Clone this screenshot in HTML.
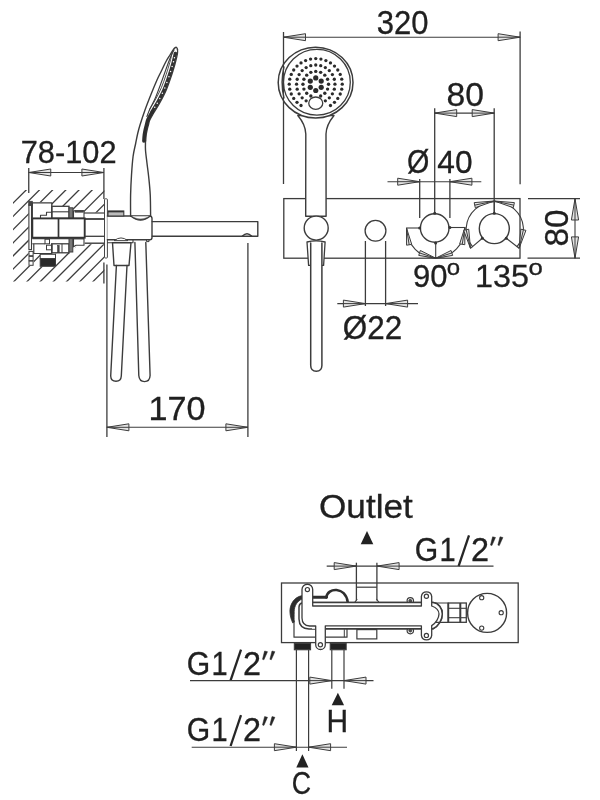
<!DOCTYPE html>
<html><head><meta charset="utf-8"><title>Drawing</title>
<style>
html,body{margin:0;padding:0;background:#fff;}
body{width:600px;height:800px;overflow:hidden;font-family:"Liberation Sans",sans-serif;}
svg{display:block;filter:blur(0.5px);}
svg text{font-family:"Liberation Sans",sans-serif;fill:#202020;stroke:#202020;stroke-width:0.3px;}
</style></head><body>
<svg width="600" height="800" viewBox="0 0 600 800">
<rect x="0" y="0" width="600" height="800" fill="#ffffff"/>
<defs><clipPath id="wall"><path clip-rule="evenodd" d="M13,190 H104.3 V281.6 H13 Z M28.6,202.3 H51.9 V206 H69.2 L72.9,207.6 V210.6 H84.2 V212.6 H104.4 V244.2 H84.2 V245.6 L75.5,247 L73,252.2 L69,253 H55.7 V266.5 H40 V254 H33.9 V265.8 H28.6 Z"/></clipPath></defs>
<g clip-path="url(#wall)">
<line x1="-83.80" y1="300.00" x2="66.20" y2="150.00" stroke="#3c3c3c" stroke-width="1.3" />
<line x1="-70.60" y1="300.00" x2="79.40" y2="150.00" stroke="#3c3c3c" stroke-width="1.3" />
<line x1="-57.40" y1="300.00" x2="92.60" y2="150.00" stroke="#3c3c3c" stroke-width="1.3" />
<line x1="-44.20" y1="300.00" x2="105.80" y2="150.00" stroke="#3c3c3c" stroke-width="1.3" />
<line x1="-31.00" y1="300.00" x2="119.00" y2="150.00" stroke="#3c3c3c" stroke-width="1.3" />
<line x1="-17.80" y1="300.00" x2="132.20" y2="150.00" stroke="#3c3c3c" stroke-width="1.3" />
<line x1="-4.60" y1="300.00" x2="145.40" y2="150.00" stroke="#3c3c3c" stroke-width="1.3" />
<line x1="8.60" y1="300.00" x2="158.60" y2="150.00" stroke="#3c3c3c" stroke-width="1.3" />
<line x1="21.80" y1="300.00" x2="171.80" y2="150.00" stroke="#3c3c3c" stroke-width="1.3" />
<line x1="35.00" y1="300.00" x2="185.00" y2="150.00" stroke="#3c3c3c" stroke-width="1.3" />
<line x1="48.20" y1="300.00" x2="198.20" y2="150.00" stroke="#3c3c3c" stroke-width="1.3" />
<line x1="61.40" y1="300.00" x2="211.40" y2="150.00" stroke="#3c3c3c" stroke-width="1.3" />
<line x1="74.60" y1="300.00" x2="224.60" y2="150.00" stroke="#3c3c3c" stroke-width="1.3" />
</g>
<line x1="28.75" y1="168.00" x2="28.75" y2="193.00" stroke="#3c3c3c" stroke-width="1.3" />
<line x1="103.90" y1="168.00" x2="103.90" y2="199.00" stroke="#3c3c3c" stroke-width="1.3" />
<line x1="28.75" y1="172.50" x2="103.90" y2="172.50" stroke="#3c3c3c" stroke-width="1.1" />
<path d="M28.75,172.50 L50.75,176.00 L50.75,169.00 Z" stroke="#3c3c3c" stroke-width="1.0" fill="#e4e4e4" stroke-linejoin="miter"/>
<line x1="28.75" y1="172.50" x2="50.75" y2="172.50" stroke="#3c3c3c" stroke-width="1.0" />
<path d="M103.90,172.50 L81.90,169.00 L81.90,176.00 Z" stroke="#3c3c3c" stroke-width="1.0" fill="#e4e4e4" stroke-linejoin="miter"/>
<line x1="103.90" y1="172.50" x2="81.90" y2="172.50" stroke="#3c3c3c" stroke-width="1.0" />
<text transform="translate(20.72,162.8) scale(0.9621,1)" font-size="32">78-102</text>
<rect x="28.90" y="205.00" width="2.60" height="44.60" rx="0" stroke="#3c3c3c" stroke-width="1.1" fill="none"/>
<rect x="28.70" y="201.30" width="3.60" height="4.00" rx="0" stroke="#3c3c3c" stroke-width="0.8" fill="#444"/>
<rect x="29.00" y="251.40" width="4.10" height="4.30" rx="0" stroke="#3c3c3c" stroke-width="1" fill="none"/>
<rect x="29.00" y="256.40" width="4.10" height="4.30" rx="0" stroke="#3c3c3c" stroke-width="1" fill="none"/>
<rect x="29.00" y="261.00" width="4.10" height="4.30" rx="0" stroke="#3c3c3c" stroke-width="1" fill="none"/>
<path d="M32.3,217.6 V202.9 H51.8 V217.6" stroke="#3c3c3c" stroke-width="1.3" fill="none" stroke-linejoin="round" stroke-linecap="round" />
<path d="M40.5,217.6 V215.2 H46.5 V212.3 H51.8" stroke="#3c3c3c" stroke-width="1.1" fill="none" stroke-linejoin="round" stroke-linecap="round" />
<rect x="51.80" y="206.30" width="17.20" height="12.00" rx="0" stroke="#3c3c3c" stroke-width="1.3" fill="none"/>
<line x1="51.80" y1="211.80" x2="69.00" y2="211.80" stroke="#3c3c3c" stroke-width="1.1" />
<rect x="69.00" y="207.80" width="3.80" height="10.50" rx="0" stroke="#3c3c3c" stroke-width="1.0" fill="#777"/>
<rect x="73.50" y="210.80" width="10.50" height="7.50" rx="0" stroke="#3c3c3c" stroke-width="1.1" fill="none"/>
<rect x="75.00" y="210.60" width="8.20" height="1.60" rx="0" stroke="#3c3c3c" stroke-width="0.6" fill="#444"/>
<line x1="84.00" y1="213.00" x2="104.30" y2="213.00" stroke="#3c3c3c" stroke-width="1.2" />
<line x1="84.00" y1="219.00" x2="104.30" y2="219.00" stroke="#3c3c3c" stroke-width="1.8" />
<rect x="32.30" y="218.40" width="52.40" height="19.30" rx="0" stroke="#333" stroke-width="1.9" fill="none"/>
<line x1="58.50" y1="218.40" x2="58.50" y2="237.70" stroke="#333" stroke-width="1.7" />
<line x1="84.70" y1="236.30" x2="104.30" y2="236.30" stroke="#3c3c3c" stroke-width="1.3" />
<line x1="32.30" y1="238.60" x2="84.00" y2="238.60" stroke="#3c3c3c" stroke-width="1.2" />
<line x1="84.70" y1="243.20" x2="104.30" y2="243.20" stroke="#3c3c3c" stroke-width="1.4" />
<path d="M33.8,244.4 V253.5 H51.8 V243.8" stroke="#3c3c3c" stroke-width="1.2" fill="none" stroke-linejoin="round" stroke-linecap="round" />
<line x1="32.30" y1="243.80" x2="45.00" y2="243.80" stroke="#3c3c3c" stroke-width="1.1" />
<rect x="45.00" y="239.20" width="4.50" height="4.60" rx="0" stroke="#3c3c3c" stroke-width="1.0" fill="none"/>
<rect x="46.50" y="245.20" width="5.30" height="4.60" rx="0" stroke="#3c3c3c" stroke-width="1.0" fill="none"/>
<rect x="51.80" y="243.80" width="17.20" height="9.00" rx="0" stroke="#3c3c3c" stroke-width="1.3" fill="none"/>
<rect x="57.60" y="245.30" width="1.60" height="7.40" rx="0" stroke="#3c3c3c" stroke-width="0.6" fill="#444"/>
<line x1="62.00" y1="243.80" x2="62.00" y2="252.80" stroke="#3c3c3c" stroke-width="1" />
<rect x="69.00" y="238.60" width="3.80" height="13.40" rx="0" stroke="#3c3c3c" stroke-width="1.0" fill="#777"/>
<path d="M73.5,238.6 H84 V245.2 H76 L73.5,246.8 Z" stroke="#3c3c3c" stroke-width="1.1" fill="none" stroke-linejoin="round" stroke-linecap="round" />
<rect x="40.20" y="254.30" width="15.30" height="4.40" rx="0" stroke="#3c3c3c" stroke-width="1" fill="none"/>
<rect x="40.20" y="258.70" width="15.30" height="7.60" rx="0" stroke="#3c3c3c" stroke-width="1" fill="#2a2a2a"/>
<rect x="104.50" y="198.80" width="2.90" height="59.20" rx="0.8" stroke="#3c3c3c" stroke-width="0.95" fill="#fff"/>
<path d="M107.4,216 H149.8 Q152,216.2 152,218.5 V237.6 Q152,239.8 149.8,239.8 H107.4" stroke="#3c3c3c" stroke-width="1.4" fill="#fff" stroke-linejoin="round" stroke-linecap="round" />
<rect x="108.00" y="211.00" width="15.80" height="5.00" rx="0" stroke="#3c3c3c" stroke-width="1.1" fill="#bbb"/>
<line x1="108.00" y1="211.60" x2="123.80" y2="211.60" stroke="#333" stroke-width="1.5" />
<path d="M107.6,242.8 H133 V239.8" stroke="#3c3c3c" stroke-width="1.1" fill="none" stroke-linejoin="round" stroke-linecap="round" />
<path d="M146.5,239.8 V241.6 H149 V239.8" stroke="#3c3c3c" stroke-width="1.0" fill="none" stroke-linejoin="round" stroke-linecap="round" />
<path d="M131,216.3 Q140.5,224 150,216.3 Z" stroke="#3c3c3c" stroke-width="1.2" fill="#555" stroke-linejoin="round" stroke-linecap="round" />
<path d="M133,216.6 Q140.5,220.5 148,216.6 Z" stroke="#fff" stroke-width="0.5" fill="#fff" stroke-linejoin="round" stroke-linecap="round" />
<path d="M152.2,221.6 H257.8 V236.2 H152.2" stroke="#3c3c3c" stroke-width="1.4" fill="none" stroke-linejoin="round" stroke-linecap="round" />
<path d="M242.5,236 Q247,231.5 251.5,236" stroke="#3c3c3c" stroke-width="1.6" fill="none" stroke-linejoin="round" stroke-linecap="round" />
<path d="M130.60,216.00 C130.60,212.50 130.45,201.83 130.60,195.00 C130.75,188.17 131.08,181.46 131.50,175.00 C131.92,168.54 132.42,161.46 133.10,156.25 C133.78,151.04 134.83,147.54 135.60,143.75 C136.37,139.96 136.97,136.62 137.70,133.50 C138.43,130.38 138.78,128.92 140.00,125.00 C141.22,121.08 143.12,115.21 145.00,110.00 C146.88,104.79 149.25,98.75 151.25,93.75 C153.25,88.75 155.33,83.75 157.00,80.00 C158.67,76.25 159.75,74.33 161.25,71.25 C162.75,68.17 164.54,64.21 166.00,61.50 C167.46,58.79 168.75,57.00 170.00,55.00 C171.25,53.00 172.63,50.73 173.50,49.50 C174.37,48.27 174.92,47.92 175.20,47.60 Q176.8,46.3 177.5,49.5" stroke="#3c3c3c" stroke-width="1.4" fill="none" stroke-linejoin="round" stroke-linecap="round" />
<path d="M177.50,49.50 C177.48,50.25 177.82,51.58 177.40,54.00 C176.98,56.42 176.03,60.29 175.00,64.00 C173.97,67.71 172.71,71.92 171.25,76.25 C169.79,80.58 168.12,85.62 166.25,90.00 C164.38,94.38 162.04,98.75 160.00,102.50 C157.96,106.25 155.70,109.58 154.00,112.50 C152.30,115.42 150.73,117.92 149.80,120.00 C148.87,122.08 148.85,123.33 148.40,125.00 C147.95,126.67 147.47,128.33 147.10,130.00 C146.73,131.67 146.43,133.17 146.20,135.00 C145.97,136.83 145.78,140.00 145.70,141.00" stroke="#3c3c3c" stroke-width="1.3" fill="none" stroke-linejoin="round" stroke-linecap="round" />
<path d="M145.50,141.00 C145.50,142.50 145.27,146.42 145.50,150.00 C145.73,153.58 146.36,157.92 146.90,162.50 C147.44,167.08 148.19,172.08 148.75,177.50 C149.31,182.92 149.94,188.58 150.25,195.00 C150.56,201.42 150.54,212.50 150.60,216.00" stroke="#3c3c3c" stroke-width="1.4" fill="none" stroke-linejoin="round" stroke-linecap="round" />
<path d="M173.90,50.30 C173.42,51.25 172.07,53.55 171.00,56.00 C169.93,58.45 169.12,60.58 167.50,65.00 C165.88,69.42 163.33,76.88 161.25,82.50 C159.17,88.12 156.88,94.38 155.00,98.75 C153.12,103.12 151.35,105.79 150.00,108.75 C148.65,111.71 147.42,115.21 146.90,116.50" stroke="#3c3c3c" stroke-width="1.1" fill="none" stroke-linejoin="round" stroke-linecap="round" />
<path d="M175.46,53.53 C175.06,55.19 174.09,59.79 173.07,63.47 C172.06,67.15 170.80,71.32 169.35,75.61 C167.91,79.90 166.26,84.89 164.41,89.21 C162.56,93.53 160.26,97.83 158.24,101.54 C156.22,105.25 153.28,109.82 152.29,111.47" stroke="#333" stroke-width="3.6" fill="none" stroke-linejoin="round" stroke-linecap="round" />
<path d="M172.15,52.74 C171.76,54.38 170.80,58.93 169.80,62.56 C168.79,66.19 167.55,70.31 166.13,74.53 C164.71,78.75 163.10,83.64 161.29,87.87 C159.47,92.10 157.24,96.28 155.26,99.92 C153.27,103.56 150.35,108.09 149.37,109.72" stroke="#3c3c3c" stroke-width="0.9" fill="none" stroke-linejoin="round" stroke-linecap="round" />
<circle cx="174.46" cy="57.67" r="0.75" fill="#fff"/>
<circle cx="173.47" cy="61.81" r="0.75" fill="#fff"/>
<circle cx="172.14" cy="66.50" r="0.75" fill="#fff"/>
<circle cx="170.59" cy="71.56" r="0.75" fill="#fff"/>
<circle cx="168.94" cy="76.75" r="0.75" fill="#fff"/>
<circle cx="166.88" cy="82.41" r="0.75" fill="#fff"/>
<circle cx="164.82" cy="88.08" r="0.75" fill="#fff"/>
<circle cx="162.36" cy="93.32" r="0.75" fill="#fff"/>
<circle cx="159.79" cy="98.46" r="0.75" fill="#fff"/>
<circle cx="157.25" cy="103.20" r="0.75" fill="#fff"/>
<circle cx="154.77" cy="107.33" r="0.75" fill="#fff"/>
<path d="M152.43,111.62 C151.72,112.89 149.12,117.11 148.16,119.26 C147.20,121.42 147.13,122.81 146.66,124.53 C146.19,126.26 145.72,127.91 145.34,129.61 C144.97,131.32 144.65,132.90 144.41,134.77 C144.18,136.65 143.99,139.84 143.91,140.85" stroke="#2e2e2e" stroke-width="3.6" fill="none" stroke-linejoin="round" stroke-linecap="round" />
<path d="M114.5,240.4 Q121,235.2 127.5,240.4 Z" stroke="#3c3c3c" stroke-width="0.95" fill="#fff" stroke-linejoin="round" stroke-linecap="round" />
<path d="M112.5,242.8 H131 L129,265.5 H114 Z" stroke="#3c3c3c" stroke-width="1.4" fill="#fff" stroke-linejoin="round" stroke-linecap="round" />
<path d="M116.4,265.5 L110.7,376 Q110.9,381.3 116,381.3 Q121,381.3 121.3,376 L127,265.5" stroke="#3c3c3c" stroke-width="1.4" fill="none" stroke-linejoin="round" stroke-linecap="round" />
<path d="M134.9,242.5 L138.8,375.5 Q139.3,381.6 144.5,381.6 Q149.8,381.6 150.1,375.5 L145.8,242.5" stroke="#3c3c3c" stroke-width="1.4" fill="none" stroke-linejoin="round" stroke-linecap="round" />
<line x1="103.90" y1="262.50" x2="103.90" y2="283.60" stroke="#3c3c3c" stroke-width="1.3" />
<line x1="106.90" y1="264.50" x2="106.90" y2="437.00" stroke="#3c3c3c" stroke-width="1.3" />
<line x1="247.90" y1="243.00" x2="247.90" y2="437.00" stroke="#3c3c3c" stroke-width="1.3" />
<line x1="106.90" y1="427.30" x2="247.90" y2="427.30" stroke="#3c3c3c" stroke-width="1.1" />
<path d="M106.90,427.30 L128.90,430.80 L128.90,423.80 Z" stroke="#3c3c3c" stroke-width="1.0" fill="#e4e4e4" stroke-linejoin="miter"/>
<line x1="106.90" y1="427.30" x2="128.90" y2="427.30" stroke="#3c3c3c" stroke-width="1.0" />
<path d="M247.90,427.30 L225.90,423.80 L225.90,430.80 Z" stroke="#3c3c3c" stroke-width="1.0" fill="#e4e4e4" stroke-linejoin="miter"/>
<line x1="247.90" y1="427.30" x2="225.90" y2="427.30" stroke="#3c3c3c" stroke-width="1.0" />
<text transform="translate(148.38,419.8) scale(1.0495,1)" font-size="32.6">170</text>
<rect x="283.80" y="198.60" width="236.20" height="59.60" rx="0" stroke="#3c3c3c" stroke-width="1.3" fill="none"/>
<line x1="283.50" y1="32.00" x2="283.50" y2="184.00" stroke="#3c3c3c" stroke-width="1.3" />
<line x1="520.10" y1="31.50" x2="520.10" y2="184.30" stroke="#3c3c3c" stroke-width="1.3" />
<line x1="283.50" y1="37.20" x2="520.10" y2="37.20" stroke="#3c3c3c" stroke-width="1.1" />
<path d="M283.50,37.20 L305.50,40.70 L305.50,33.70 Z" stroke="#3c3c3c" stroke-width="1.0" fill="#e4e4e4" stroke-linejoin="miter"/>
<line x1="283.50" y1="37.20" x2="305.50" y2="37.20" stroke="#3c3c3c" stroke-width="1.0" />
<path d="M520.10,37.20 L498.10,33.70 L498.10,40.70 Z" stroke="#3c3c3c" stroke-width="1.0" fill="#e4e4e4" stroke-linejoin="miter"/>
<line x1="520.10" y1="37.20" x2="498.10" y2="37.20" stroke="#3c3c3c" stroke-width="1.0" />
<text transform="translate(376.82,33.8) scale(0.941,1)" font-size="33">320</text>
<path d="M297.8,115.5 C302.5,121 305.6,127 305.8,134 L305.7,216.2 H326.1 L326,134 C326.2,127 329.5,121 334,115.5 Z" stroke="#3c3c3c" stroke-width="1.4" fill="#fff" stroke-linejoin="round" stroke-linecap="round" />
<ellipse cx="315.60" cy="82.60" rx="37.40" ry="35.40" stroke="#3c3c3c" stroke-width="1.5" fill="#fff" />
<ellipse cx="316.90" cy="82.20" rx="33.40" ry="32.90" stroke="#3c3c3c" stroke-width="1.3" fill="none" />
<path d="M283.9,67 Q280.4,82 283.9,98" stroke="#3c3c3c" stroke-width="1.5" fill="none" stroke-linejoin="round" stroke-linecap="round" />
<line x1="283.50" y1="60.00" x2="283.50" y2="105.00" stroke="#3c3c3c" stroke-width="1.0" />
<circle cx="315.75" cy="77.90" r="2.6" fill="#2b2b2b"/>
<circle cx="321.21" cy="81.05" r="2.6" fill="#2b2b2b"/>
<circle cx="321.21" cy="87.35" r="2.6" fill="#2b2b2b"/>
<circle cx="315.75" cy="90.50" r="2.6" fill="#2b2b2b"/>
<circle cx="310.29" cy="87.35" r="2.6" fill="#2b2b2b"/>
<circle cx="310.29" cy="81.05" r="2.6" fill="#2b2b2b"/>
<circle cx="315.75" cy="71.40" r="1.7" fill="#2b2b2b"/>
<circle cx="320.65" cy="72.37" r="1.7" fill="#2b2b2b"/>
<circle cx="324.80" cy="75.15" r="1.7" fill="#2b2b2b"/>
<circle cx="327.58" cy="79.30" r="1.7" fill="#2b2b2b"/>
<circle cx="328.55" cy="84.20" r="1.7" fill="#2b2b2b"/>
<circle cx="327.58" cy="89.10" r="1.7" fill="#2b2b2b"/>
<circle cx="324.80" cy="93.25" r="1.7" fill="#2b2b2b"/>
<circle cx="320.65" cy="96.03" r="1.7" fill="#2b2b2b"/>
<circle cx="310.85" cy="96.03" r="1.7" fill="#2b2b2b"/>
<circle cx="306.70" cy="93.25" r="1.7" fill="#2b2b2b"/>
<circle cx="303.92" cy="89.10" r="1.7" fill="#2b2b2b"/>
<circle cx="302.95" cy="84.20" r="1.7" fill="#2b2b2b"/>
<circle cx="303.92" cy="79.30" r="1.7" fill="#2b2b2b"/>
<circle cx="306.70" cy="75.15" r="1.7" fill="#2b2b2b"/>
<circle cx="310.85" cy="72.37" r="1.7" fill="#2b2b2b"/>
<circle cx="315.75" cy="65.00" r="1.65" fill="#2b2b2b"/>
<circle cx="320.72" cy="65.65" r="1.65" fill="#2b2b2b"/>
<circle cx="325.35" cy="67.57" r="1.65" fill="#2b2b2b"/>
<circle cx="329.33" cy="70.62" r="1.65" fill="#2b2b2b"/>
<circle cx="332.38" cy="74.60" r="1.65" fill="#2b2b2b"/>
<circle cx="334.30" cy="79.23" r="1.65" fill="#2b2b2b"/>
<circle cx="334.95" cy="84.20" r="1.65" fill="#2b2b2b"/>
<circle cx="334.30" cy="89.17" r="1.65" fill="#2b2b2b"/>
<circle cx="332.38" cy="93.80" r="1.65" fill="#2b2b2b"/>
<circle cx="329.33" cy="97.78" r="1.65" fill="#2b2b2b"/>
<circle cx="325.35" cy="100.83" r="1.65" fill="#2b2b2b"/>
<circle cx="306.15" cy="100.83" r="1.65" fill="#2b2b2b"/>
<circle cx="302.17" cy="97.78" r="1.65" fill="#2b2b2b"/>
<circle cx="299.12" cy="93.80" r="1.65" fill="#2b2b2b"/>
<circle cx="297.20" cy="89.17" r="1.65" fill="#2b2b2b"/>
<circle cx="296.55" cy="84.20" r="1.65" fill="#2b2b2b"/>
<circle cx="297.20" cy="79.23" r="1.65" fill="#2b2b2b"/>
<circle cx="299.12" cy="74.60" r="1.65" fill="#2b2b2b"/>
<circle cx="302.17" cy="70.62" r="1.65" fill="#2b2b2b"/>
<circle cx="306.15" cy="67.57" r="1.65" fill="#2b2b2b"/>
<circle cx="310.78" cy="65.65" r="1.65" fill="#2b2b2b"/>
<circle cx="315.75" cy="58.60" r="1.65" fill="#2b2b2b"/>
<circle cx="320.92" cy="59.09" r="1.65" fill="#2b2b2b"/>
<circle cx="325.89" cy="60.55" r="1.65" fill="#2b2b2b"/>
<circle cx="330.47" cy="62.91" r="1.65" fill="#2b2b2b"/>
<circle cx="334.49" cy="66.10" r="1.65" fill="#2b2b2b"/>
<circle cx="337.78" cy="69.98" r="1.65" fill="#2b2b2b"/>
<circle cx="340.23" cy="74.40" r="1.65" fill="#2b2b2b"/>
<circle cx="341.74" cy="79.21" r="1.65" fill="#2b2b2b"/>
<circle cx="342.25" cy="84.20" r="1.65" fill="#2b2b2b"/>
<circle cx="341.74" cy="89.19" r="1.65" fill="#2b2b2b"/>
<circle cx="340.23" cy="94.00" r="1.65" fill="#2b2b2b"/>
<circle cx="337.78" cy="98.42" r="1.65" fill="#2b2b2b"/>
<circle cx="334.49" cy="102.30" r="1.65" fill="#2b2b2b"/>
<circle cx="330.47" cy="105.49" r="1.65" fill="#2b2b2b"/>
<circle cx="301.03" cy="105.49" r="1.65" fill="#2b2b2b"/>
<circle cx="297.01" cy="102.30" r="1.65" fill="#2b2b2b"/>
<circle cx="293.72" cy="98.42" r="1.65" fill="#2b2b2b"/>
<circle cx="291.27" cy="94.00" r="1.65" fill="#2b2b2b"/>
<circle cx="289.76" cy="89.19" r="1.65" fill="#2b2b2b"/>
<circle cx="289.25" cy="84.20" r="1.65" fill="#2b2b2b"/>
<circle cx="289.76" cy="79.21" r="1.65" fill="#2b2b2b"/>
<circle cx="291.27" cy="74.40" r="1.65" fill="#2b2b2b"/>
<circle cx="293.72" cy="69.98" r="1.65" fill="#2b2b2b"/>
<circle cx="297.01" cy="66.10" r="1.65" fill="#2b2b2b"/>
<circle cx="301.03" cy="62.91" r="1.65" fill="#2b2b2b"/>
<circle cx="305.61" cy="60.55" r="1.65" fill="#2b2b2b"/>
<circle cx="310.58" cy="59.09" r="1.65" fill="#2b2b2b"/>
<ellipse cx="315.75" cy="103.20" rx="7.00" ry="6.20" stroke="#3c3c3c" stroke-width="1.3" fill="#fff" />
<path d="M307,242 Q316,239.6 325.1,242 L323.6,265.4 H308.6 Z" stroke="#3c3c3c" stroke-width="1.3" fill="#fff" stroke-linejoin="round" stroke-linecap="round" />
<path d="M310.7,243 V365.5 Q310.8,371.2 316.3,371.2 Q321.8,371.2 321.9,365.5 V243" stroke="#3c3c3c" stroke-width="1.5" fill="#fff" stroke-linejoin="round" stroke-linecap="round" />
<circle cx="316.20" cy="228.10" r="12.00" stroke="#3c3c3c" stroke-width="1.4" fill="#fff"/>
<circle cx="375.50" cy="230.80" r="10.40" stroke="#3c3c3c" stroke-width="1.3" fill="none"/>
<line x1="365.40" y1="241.00" x2="365.40" y2="306.00" stroke="#3c3c3c" stroke-width="1.3" />
<line x1="385.60" y1="241.00" x2="385.60" y2="306.00" stroke="#3c3c3c" stroke-width="1.3" />
<line x1="337.30" y1="303.60" x2="418.00" y2="303.60" stroke="#3c3c3c" stroke-width="1.1" />
<path d="M365.40,303.60 L343.40,300.10 L343.40,307.10 Z" stroke="#3c3c3c" stroke-width="1.0" fill="#e4e4e4" stroke-linejoin="miter"/>
<line x1="365.40" y1="303.60" x2="343.40" y2="303.60" stroke="#3c3c3c" stroke-width="1.0" />
<path d="M385.60,303.60 L407.60,307.10 L407.60,300.10 Z" stroke="#3c3c3c" stroke-width="1.0" fill="#e4e4e4" stroke-linejoin="miter"/>
<line x1="385.60" y1="303.60" x2="407.60" y2="303.60" stroke="#3c3c3c" stroke-width="1.0" />
<text transform="translate(342.81,339.0) scale(0.9513,1)" font-size="33">Ø22</text>
<line x1="434.70" y1="108.30" x2="434.70" y2="213.50" stroke="#3c3c3c" stroke-width="1.3" />
<line x1="494.20" y1="108.30" x2="494.20" y2="213.50" stroke="#3c3c3c" stroke-width="1.3" />
<line x1="434.70" y1="113.10" x2="494.20" y2="113.10" stroke="#3c3c3c" stroke-width="1.1" />
<path d="M434.70,113.10 L456.70,116.60 L456.70,109.60 Z" stroke="#3c3c3c" stroke-width="1.0" fill="#e4e4e4" stroke-linejoin="miter"/>
<line x1="434.70" y1="113.10" x2="456.70" y2="113.10" stroke="#3c3c3c" stroke-width="1.0" />
<path d="M494.20,113.10 L472.20,109.60 L472.20,116.60 Z" stroke="#3c3c3c" stroke-width="1.0" fill="#e4e4e4" stroke-linejoin="miter"/>
<line x1="494.20" y1="113.10" x2="472.20" y2="113.10" stroke="#3c3c3c" stroke-width="1.0" />
<text transform="translate(446.47,105.6) scale(1.0206,1)" font-size="33">80</text>
<line x1="419.70" y1="179.00" x2="419.70" y2="218.00" stroke="#3c3c3c" stroke-width="1.3" />
<line x1="449.90" y1="179.00" x2="449.90" y2="218.00" stroke="#3c3c3c" stroke-width="1.3" />
<line x1="387.50" y1="181.70" x2="481.30" y2="181.70" stroke="#3c3c3c" stroke-width="1.1" />
<path d="M419.70,181.70 L397.70,178.20 L397.70,185.20 Z" stroke="#3c3c3c" stroke-width="1.0" fill="#e4e4e4" stroke-linejoin="miter"/>
<line x1="419.70" y1="181.70" x2="397.70" y2="181.70" stroke="#3c3c3c" stroke-width="1.0" />
<path d="M449.90,181.70 L471.90,185.20 L471.90,178.20 Z" stroke="#3c3c3c" stroke-width="1.0" fill="#e4e4e4" stroke-linejoin="miter"/>
<line x1="449.90" y1="181.70" x2="471.90" y2="181.70" stroke="#3c3c3c" stroke-width="1.0" />
<text transform="translate(406.91,173.0) scale(0.8696,1)" font-size="33">Ø</text>
<text transform="translate(437.26,172.8) scale(0.991,1)" font-size="32">40</text>
<path d="M406.5,228.0 A29.2,30.2 0 0 0 464.9,227.5" stroke="#3c3c3c" stroke-width="1.1" fill="none" stroke-linejoin="round" stroke-linecap="round" />
<circle cx="434.70" cy="228.00" r="14.30" stroke="#3c3c3c" stroke-width="1.4" fill="#fff"/>
<line x1="406.50" y1="228.00" x2="420.40" y2="228.00" stroke="#3c3c3c" stroke-width="1.1" />
<line x1="449.00" y1="227.50" x2="464.90" y2="227.50" stroke="#3c3c3c" stroke-width="1.1" />
<line x1="435.70" y1="242.30" x2="435.70" y2="258.20" stroke="#3c3c3c" stroke-width="1.1" />
<circle cx="434.70" cy="213.20" r="1.5" fill="#333"/>
<circle cx="419.70" cy="228.00" r="1.5" fill="#333"/>
<circle cx="449.90" cy="227.50" r="1.5" fill="#333"/>
<circle cx="435.60" cy="243.00" r="1.5" fill="#333"/>
<path d="M406.50,228.00 L406.59,245.20 L411.73,244.38 Z" stroke="#3c3c3c" stroke-width="1.0" fill="#e4e4e4" stroke-linejoin="miter"/>
<line x1="406.50" y1="228.00" x2="409.16" y2="244.79" stroke="#3c3c3c" stroke-width="1.0" />
<path d="M464.90,227.50 L459.67,243.88 L464.81,244.70 Z" stroke="#3c3c3c" stroke-width="1.0" fill="#e4e4e4" stroke-linejoin="miter"/>
<line x1="464.90" y1="227.50" x2="462.24" y2="244.29" stroke="#3c3c3c" stroke-width="1.0" />
<path d="M435.70,258.20 L420.34,250.47 L418.73,255.42 Z" stroke="#3c3c3c" stroke-width="1.0" fill="#e4e4e4" stroke-linejoin="miter"/>
<line x1="435.70" y1="258.20" x2="419.53" y2="252.95" stroke="#3c3c3c" stroke-width="1.0" />
<path d="M435.70,258.20 L452.67,255.42 L451.06,250.47 Z" stroke="#3c3c3c" stroke-width="1.0" fill="#e4e4e4" stroke-linejoin="miter"/>
<line x1="435.70" y1="258.20" x2="451.87" y2="252.95" stroke="#3c3c3c" stroke-width="1.0" />
<text transform="translate(413.04,287.4) scale(0.971,1)" font-size="32">90</text>
<text transform="translate(446.71,275.0) scale(1.0927,1)" font-size="22">o</text>
<path d="M472.57,246.60 A28.6,27.6 0 1 1 517.03,246.60" stroke="#3c3c3c" stroke-width="1.1" fill="none" stroke-linejoin="round" stroke-linecap="round" />
<circle cx="494.30" cy="228.60" r="15.00" stroke="#3c3c3c" stroke-width="1.4" fill="#fff"/>
<line x1="482.64" y1="238.04" x2="470.48" y2="248.30" stroke="#3c3c3c" stroke-width="1.1" />
<line x1="505.96" y1="238.04" x2="519.12" y2="248.30" stroke="#3c3c3c" stroke-width="1.1" />
<line x1="494.30" y1="213.60" x2="494.30" y2="201.00" stroke="#3c3c3c" stroke-width="1.1" />
<circle cx="494.30" cy="213.30" r="1.5" fill="#333"/>
<circle cx="482.33" cy="238.29" r="1.5" fill="#333"/>
<circle cx="506.27" cy="238.29" r="1.5" fill="#333"/>
<path d="M494.30,201.00 L474.20,202.62 L475.28,207.70 Z" stroke="#3c3c3c" stroke-width="1.0" fill="#e4e4e4" stroke-linejoin="miter"/>
<line x1="494.30" y1="201.00" x2="474.74" y2="205.16" stroke="#3c3c3c" stroke-width="1.0" />
<path d="M494.30,201.00 L513.32,207.70 L514.40,202.62 Z" stroke="#3c3c3c" stroke-width="1.0" fill="#e4e4e4" stroke-linejoin="miter"/>
<line x1="494.30" y1="201.00" x2="513.86" y2="205.16" stroke="#3c3c3c" stroke-width="1.0" />
<path d="M470.48,248.30 L468.73,229.20 L463.67,230.37 Z" stroke="#3c3c3c" stroke-width="1.0" fill="#e4e4e4" stroke-linejoin="miter"/>
<line x1="470.48" y1="248.30" x2="466.20" y2="229.78" stroke="#3c3c3c" stroke-width="1.0" />
<path d="M519.12,248.30 L525.93,230.37 L520.87,229.20 Z" stroke="#3c3c3c" stroke-width="1.0" fill="#e4e4e4" stroke-linejoin="miter"/>
<line x1="519.12" y1="248.30" x2="523.40" y2="229.78" stroke="#3c3c3c" stroke-width="1.0" />
<text transform="translate(474.97,287.4) scale(1.0101,1)" font-size="32">135</text>
<text transform="translate(528.43,275.0) scale(1.1707,1)" font-size="22">o</text>
<line x1="528.00" y1="198.70" x2="580.00" y2="198.70" stroke="#3c3c3c" stroke-width="1.3" />
<line x1="527.50" y1="258.20" x2="580.00" y2="258.20" stroke="#3c3c3c" stroke-width="1.3" />
<line x1="575.00" y1="198.70" x2="575.00" y2="258.20" stroke="#3c3c3c" stroke-width="1.1" />
<path d="M575.00,198.70 L571.40,220.00 L578.60,220.00 Z" stroke="#3c3c3c" stroke-width="1.0" fill="#e4e4e4" stroke-linejoin="miter"/>
<line x1="575.00" y1="198.70" x2="575.00" y2="220.00" stroke="#3c3c3c" stroke-width="1.0" />
<path d="M575.00,258.20 L578.60,236.90 L571.40,236.90 Z" stroke="#3c3c3c" stroke-width="1.0" fill="#e4e4e4" stroke-linejoin="miter"/>
<line x1="575.00" y1="258.20" x2="575.00" y2="236.90" stroke="#3c3c3c" stroke-width="1.0" />
<text transform="translate(568.0,246.5) rotate(-90) scale(0.9942,1)" font-size="33.5">80</text>
<rect x="281.50" y="583.00" width="236.70" height="59.60" rx="0" stroke="#3c3c3c" stroke-width="1.3" fill="none"/>
<text transform="translate(319.0,517.5) scale(1.0655,1)" font-size="33">Outlet</text>
<path d="M367,531 L373.3,544.2 L360.7,544.2 Z" fill="#222"/>
<text transform="translate(414.68,560.80) scale(0.9286,1)" font-size="32.5">G</text>
<text transform="translate(439.47,560.80) scale(0.8929,1)" font-size="32.5">1</text>
<text transform="translate(471.06,560.80) scale(0.9966,1)" font-size="32.5">2</text>
<line x1="469.00" y1="535.40" x2="458.60" y2="566.20" stroke="#262626" stroke-width="2.3"/>
<path d="M492.60,536.80 L495.50,537.50 L491.90,545.60 L490.50,545.10 Z" fill="#262626" stroke="#262626" stroke-width="0.5" stroke-linejoin="round"/>
<path d="M500.00,536.80 L502.90,537.50 L499.30,545.60 L497.90,545.10 Z" fill="#262626" stroke="#262626" stroke-width="0.5" stroke-linejoin="round"/>
<line x1="326.70" y1="566.10" x2="493.50" y2="566.10" stroke="#3c3c3c" stroke-width="1.1" />
<path d="M356.20,566.10 L334.20,562.60 L334.20,569.60 Z" stroke="#3c3c3c" stroke-width="1.0" fill="#e4e4e4" stroke-linejoin="miter"/>
<line x1="356.20" y1="566.10" x2="334.20" y2="566.10" stroke="#3c3c3c" stroke-width="1.0" />
<path d="M377.10,566.10 L399.10,569.60 L399.10,562.60 Z" stroke="#3c3c3c" stroke-width="1.0" fill="#e4e4e4" stroke-linejoin="miter"/>
<line x1="377.10" y1="566.10" x2="399.10" y2="566.10" stroke="#3c3c3c" stroke-width="1.0" />
<line x1="356.40" y1="562.70" x2="356.40" y2="600.50" stroke="#3c3c3c" stroke-width="1.3" />
<line x1="376.90" y1="562.70" x2="376.90" y2="600.50" stroke="#3c3c3c" stroke-width="1.3" />
<line x1="356.40" y1="587.20" x2="376.90" y2="587.20" stroke="#3c3c3c" stroke-width="1.2" />
<path d="M355,602 L356.9,599.5 M378.7,602 L376.8,599.5" stroke="#3c3c3c" stroke-width="1.2" fill="none" stroke-linejoin="round" stroke-linecap="round" />
<rect x="356.90" y="629.60" width="19.90" height="9.30" rx="0" stroke="#3c3c3c" stroke-width="1.2" fill="none"/>
<path d="M302.2,595.6 C294,596.8 289.9,604.5 289.9,611.3 C290,616 291.3,620 292.8,623 L294.4,622 C293.9,619 294.2,615.5 294.2,611.3 C294.3,606 297.2,600.8 302.2,599 Z" stroke="#2e2e2e" stroke-width="0.8" fill="#2e2e2e" stroke-linejoin="round" stroke-linecap="round" />
<path d="M294,622 V637.2 H347 V629.3" stroke="#3c3c3c" stroke-width="1.2" fill="none" stroke-linejoin="round" stroke-linecap="round" />
<line x1="344.30" y1="629.30" x2="344.30" y2="637.20" stroke="#3c3c3c" stroke-width="1" />
<path d="M312.7,597.3 H326.5" stroke="#2e2e2e" stroke-width="2.9" fill="none" stroke-linejoin="round" stroke-linecap="round" />
<path d="M326.3,597.5 C327.5,587 345.5,586.5 347.7,602" stroke="#2e2e2e" stroke-width="2.6" fill="none" stroke-linejoin="round" stroke-linecap="round" />
<circle cx="410.30" cy="600.80" r="3.20" stroke="#3c3c3c" stroke-width="1.2" fill="#fff"/>
<circle cx="410.30" cy="600.80" r="1.40" stroke="#3c3c3c" stroke-width="1" fill="#555"/>
<circle cx="410.30" cy="630.60" r="3.20" stroke="#3c3c3c" stroke-width="1.2" fill="#fff"/>
<circle cx="410.30" cy="630.60" r="1.40" stroke="#3c3c3c" stroke-width="1" fill="#555"/>
<path d="M312.7,602.4 H433 C438.5,603 442.2,608 442.3,614 C442.2,620 438.5,626.3 433,628.8 H325.3 M315.7,629.1 H309 Q299.2,628.6 299,619 V607 Q299.3,603.5 302,603" stroke="#3c3c3c" stroke-width="1.5" fill="none" stroke-linejoin="round" stroke-linecap="round" />
<path d="M312.7,602.4 H433 C438.5,603 442.2,608 442.3,614 C442.2,620 438.5,626.3 433,628.8 H312 V602.4 Z" fill="#fff" stroke="none"/>
<path d="M312.7,602.4 H433 C438.5,603 442.2,608 442.3,614 C442.2,620 438.5,626.3 433,628.8 H325.3" stroke="#3c3c3c" stroke-width="1.5" fill="none" stroke-linejoin="round" stroke-linecap="round" />
<path d="M302,589.6 A5.3,5.3 0 0 1 312.7,589.6 V606 H421.4 V596.3 A5.2,5.2 0 0 1 431.7,596.3 V606 C436,607.5 438.9,610.5 439,614 C438.9,618 436,623 431.7,625.6 V635.4 A5.2,5.2 0 0 1 421.4,635.4 V625.8 H325.3 V644.7 A4.8,4.8 0 0 1 315.7,644.7 V626 H309.5 Q302.2,625.6 302,618 Z" stroke="#3c3c3c" stroke-width="1.3" fill="#fff" stroke-linejoin="round" stroke-linecap="round" />
<circle cx="307.40" cy="589.60" r="2.10" stroke="#3c3c3c" stroke-width="1.2" fill="#fff"/>
<circle cx="320.40" cy="644.80" r="2.10" stroke="#3c3c3c" stroke-width="1.2" fill="#fff"/>
<circle cx="426.40" cy="596.30" r="2.10" stroke="#3c3c3c" stroke-width="1.2" fill="#fff"/>
<circle cx="426.40" cy="635.40" r="2.10" stroke="#3c3c3c" stroke-width="1.2" fill="#fff"/>
<path d="M436,603 H448.3 M436,622.4 H448.3" stroke="#3c3c3c" stroke-width="1.2" fill="none" stroke-linejoin="round" stroke-linecap="round" />
<rect x="448.30" y="603.00" width="18.00" height="19.30" rx="0" stroke="#3c3c3c" stroke-width="1.3" fill="#fff"/>
<line x1="448.30" y1="603.00" x2="448.30" y2="622.30" stroke="#3c3c3c" stroke-width="1.8" />
<line x1="448.30" y1="608.30" x2="466.30" y2="608.30" stroke="#3c3c3c" stroke-width="1.1" />
<line x1="448.30" y1="617.70" x2="466.30" y2="617.70" stroke="#3c3c3c" stroke-width="1.1" />
<line x1="460.30" y1="603.00" x2="460.30" y2="622.30" stroke="#3c3c3c" stroke-width="2.0" />
<circle cx="487.10" cy="612.90" r="19.50" stroke="#3c3c3c" stroke-width="1.4" fill="#fff"/>
<circle cx="481.70" cy="597.70" r="2.10" stroke="#3c3c3c" stroke-width="1.1" fill="none"/>
<circle cx="501.20" cy="612.70" r="2.10" stroke="#3c3c3c" stroke-width="1.1" fill="none"/>
<circle cx="481.70" cy="628.10" r="2.10" stroke="#3c3c3c" stroke-width="1.1" fill="none"/>
<rect x="294.30" y="643.20" width="16.30" height="6.60" rx="0" stroke="#3c3c3c" stroke-width="1" fill="#222"/>
<rect x="330.20" y="643.20" width="16.00" height="6.60" rx="0" stroke="#3c3c3c" stroke-width="1" fill="#222"/>
<line x1="296.40" y1="650.00" x2="296.40" y2="751.00" stroke="#3c3c3c" stroke-width="1.2" />
<line x1="308.60" y1="650.00" x2="308.60" y2="751.00" stroke="#3c3c3c" stroke-width="1.2" />
<line x1="331.80" y1="650.00" x2="331.80" y2="688.70" stroke="#3c3c3c" stroke-width="1.2" />
<line x1="344.00" y1="650.00" x2="344.00" y2="688.70" stroke="#3c3c3c" stroke-width="1.2" />
<text transform="translate(186.68,675.00) scale(0.9286,1)" font-size="32.5">G</text>
<text transform="translate(211.47,675.00) scale(0.8929,1)" font-size="32.5">1</text>
<text transform="translate(243.06,675.00) scale(0.9966,1)" font-size="32.5">2</text>
<line x1="241.00" y1="649.60" x2="230.60" y2="680.40" stroke="#262626" stroke-width="2.3"/>
<path d="M264.60,651.00 L267.50,651.70 L263.90,659.80 L262.50,659.30 Z" fill="#262626" stroke="#262626" stroke-width="0.5" stroke-linejoin="round"/>
<path d="M272.00,651.00 L274.90,651.70 L271.30,659.80 L269.90,659.30 Z" fill="#262626" stroke="#262626" stroke-width="0.5" stroke-linejoin="round"/>
<line x1="190.00" y1="680.60" x2="373.50" y2="680.60" stroke="#3c3c3c" stroke-width="1.1" />
<path d="M331.80,680.60 L309.80,677.10 L309.80,684.10 Z" stroke="#3c3c3c" stroke-width="1.0" fill="#e4e4e4" stroke-linejoin="miter"/>
<line x1="331.80" y1="680.60" x2="309.80" y2="680.60" stroke="#3c3c3c" stroke-width="1.0" />
<path d="M344.00,680.60 L366.00,684.10 L366.00,677.10 Z" stroke="#3c3c3c" stroke-width="1.0" fill="#e4e4e4" stroke-linejoin="miter"/>
<line x1="344.00" y1="680.60" x2="366.00" y2="680.60" stroke="#3c3c3c" stroke-width="1.0" />
<path d="M337.9,692.8 L344.09999999999997,705.2 L331.7,705.2 Z" fill="#222"/>
<text transform="translate(326.43,732.0) scale(0.9352,1)" font-size="32">H</text>
<text transform="translate(186.68,740.60) scale(0.9286,1)" font-size="32.5">G</text>
<text transform="translate(211.47,740.60) scale(0.8929,1)" font-size="32.5">1</text>
<text transform="translate(243.06,740.60) scale(0.9966,1)" font-size="32.5">2</text>
<line x1="241.00" y1="715.20" x2="230.60" y2="746.00" stroke="#262626" stroke-width="2.3"/>
<path d="M264.60,716.60 L267.50,717.30 L263.90,725.40 L262.50,724.90 Z" fill="#262626" stroke="#262626" stroke-width="0.5" stroke-linejoin="round"/>
<path d="M272.00,716.60 L274.90,717.30 L271.30,725.40 L269.90,724.90 Z" fill="#262626" stroke="#262626" stroke-width="0.5" stroke-linejoin="round"/>
<line x1="191.70" y1="747.20" x2="347.00" y2="747.20" stroke="#3c3c3c" stroke-width="1.1" />
<path d="M296.40,747.20 L274.40,743.70 L274.40,750.70 Z" stroke="#3c3c3c" stroke-width="1.0" fill="#e4e4e4" stroke-linejoin="miter"/>
<line x1="296.40" y1="747.20" x2="274.40" y2="747.20" stroke="#3c3c3c" stroke-width="1.0" />
<path d="M308.60,747.20 L330.60,750.70 L330.60,743.70 Z" stroke="#3c3c3c" stroke-width="1.0" fill="#e4e4e4" stroke-linejoin="miter"/>
<line x1="308.60" y1="747.20" x2="330.60" y2="747.20" stroke="#3c3c3c" stroke-width="1.0" />
<path d="M302.4,754.3 L308.5,767.5 L296.29999999999995,767.5 Z" fill="#222"/>
<text transform="translate(291.84,794.3) scale(0.835,1)" font-size="32">C</text>
</svg>
</body></html>
